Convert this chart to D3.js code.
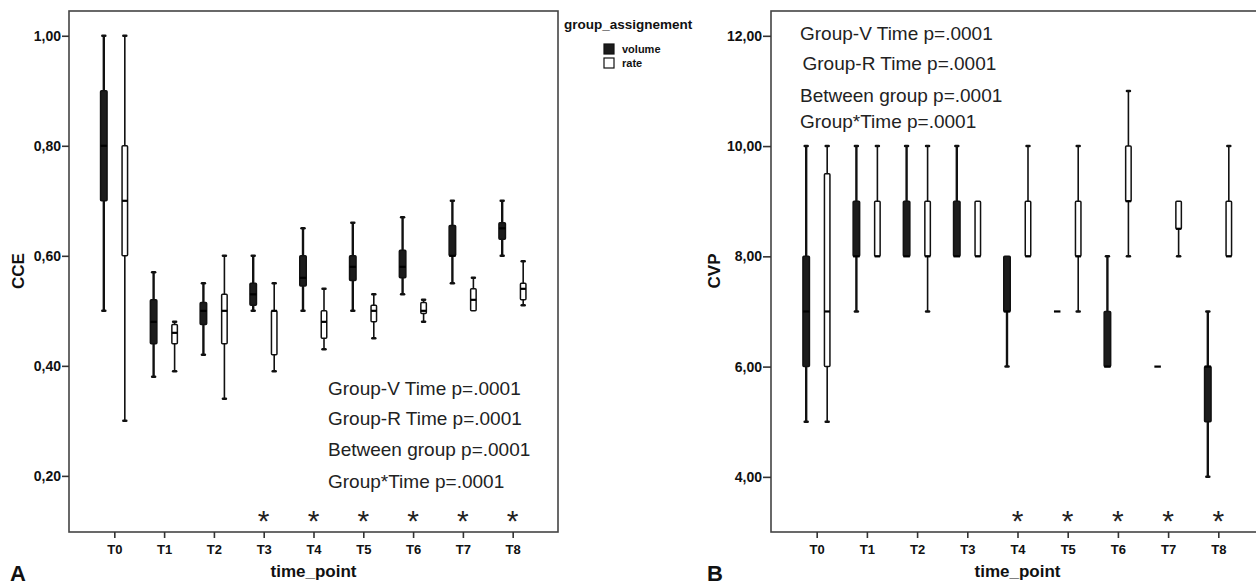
<!DOCTYPE html>
<html><head><meta charset="utf-8">
<script src="https://cdn.jsdelivr.net/npm/d3@7"></script>
<style>
body{margin:0;background:#fff}
svg{display:block}
text{font-family:"Liberation Sans",Arial,sans-serif}
</style>
</head><body>
<svg id="c" width="1256" height="586"></svg>
<script>
const timePoints = ["T0","T1","T2","T3","T4","T5","T6","T7","T8"];
const groups = ["volume","rate"];
// each entry: [min, q1, median, q3, max]
const cceVolume = [
  [0.50,0.70,0.80,0.90,1.00],
  [0.38,0.44,0.48,0.52,0.57],
  [0.42,0.475,0.50,0.515,0.55],
  [0.50,0.51,0.53,0.55,0.60],
  [0.50,0.545,0.56,0.60,0.65],
  [0.50,0.555,0.58,0.60,0.66],
  [0.53,0.56,0.58,0.61,0.67],
  [0.55,0.60,0.60,0.655,0.70],
  [0.60,0.63,0.65,0.66,0.70]
];
const cceRate = [
  [0.30,0.60,0.70,0.80,1.00],
  [0.39,0.44,0.46,0.475,0.48],
  [0.34,0.44,0.50,0.53,0.60],
  [0.39,0.42,0.50,0.50,0.55],
  [0.43,0.45,0.48,0.50,0.54],
  [0.45,0.48,0.50,0.51,0.53],
  [0.48,0.495,0.50,0.515,0.52],
  [0.50,0.50,0.52,0.54,0.56],
  [0.51,0.52,0.54,0.55,0.59]
];
const cvpVolume = [
  [5,6,7,8,10],
  [7,8,8,9,10],
  [8,8,8,9,10],
  [8,8,8,9,10],
  [6,7,7,8,8],
  [7,7,7,7,7],
  [6,6,6,7,8],
  [6,6,6,6,6],
  [4,5,6,6,7]
];
const cvpRate = [
  [5,6,7,9.5,10],
  [8,8,8,9,10],
  [7,8,8,9,10],
  [8,8,8,9,9],
  [8,8,8,9,10],
  [7,8,8,9,10],
  [8,9,9,10,11],
  [8,8.5,8.5,9,9],
  [8,8,8,9,10]
];
const cceTicks = [0.2,0.4,0.6,0.8,1.0];
const cvpTicks = [4,6,8,10,12];
const cceStars = ["T3","T4","T5","T6","T7","T8"];
const cvpStars = ["T4","T5","T6","T7","T8"];
const pLines = ["Group-V Time p=.0001","Group-R Time p=.0001","Between group p=.0001","Group*Time p=.0001"];

const svg = d3.select("#c");
const fmt = d => d3.format(".2f")(d).replace(".", ",");

function panel(cfg){
  const g = svg.append("g");
  const x = d3.scalePoint().domain(timePoints).range([cfg.left, cfg.right]).padding(0.91);
  const y = d3.scaleLinear().domain(cfg.ydom).range([532, 11]);

  // frame
  g.append("rect").attr("x", cfg.left).attr("y", 11)
    .attr("width", cfg.right - cfg.left).attr("height", 521)
    .attr("fill", "none").attr("stroke", "#444").attr("stroke-width", 1.6);

  // y axis
  const ya = g.append("g").attr("transform", `translate(${cfg.left},0)`)
    .call(d3.axisLeft(y).tickValues(cfg.ticks).tickFormat(fmt).tickSize(cfg.tickLen).tickPadding(1));
  ya.select(".domain").remove();
  ya.selectAll("line").attr("stroke", "#333").attr("stroke-width", 1.6);
  ya.selectAll("text").attr("font-size", 14).attr("font-weight", "bold").attr("fill", "#111");

  // x axis
  const xa = g.append("g").attr("transform", "translate(0,532)")
    .call(d3.axisBottom(x).tickSize(6).tickPadding(7));
  xa.select(".domain").remove();
  xa.selectAll("line").attr("stroke", "#333").attr("stroke-width", 1.6);
  xa.selectAll("text").attr("font-size", 13).attr("font-weight", "bold").attr("fill", "#111");

  // boxes
  const series = [
    {data: cfg.vol, off: -10.5, fill: "#1c1c1c", w: 6.5, sw: 2.4},
    {data: cfg.rate, off: 10.5, fill: "#fff", w: 5.5, sw: 1.6}
  ];
  series.forEach(s => {
    const bg = g.append("g");
    s.data.forEach((d, i) => {
      const cx = x(timePoints[i]) + s.off;
      const [mn, q1, md, q3, mx] = d;
      bg.append("line").attr("x1", cx).attr("x2", cx).attr("y1", y(mx)).attr("y2", y(q3))
        .attr("stroke", "#111").attr("stroke-width", s.sw);
      bg.append("line").attr("x1", cx).attr("x2", cx).attr("y1", y(q1)).attr("y2", y(mn))
        .attr("stroke", "#111").attr("stroke-width", s.sw);
      [mn, mx].forEach(v => {
        if ((v === mx && mx !== q3) || (v === mn && mn !== q1)) {
          bg.append("line").attr("x1", cx - 1.5).attr("x2", cx + 1.5).attr("y1", y(v)).attr("y2", y(v))
            .attr("stroke", "#111").attr("stroke-width", 2.5).attr("stroke-linecap", "round");
        }
      });
      bg.append("rect").attr("x", cx - s.w / 2).attr("y", y(q3))
        .attr("width", s.w).attr("height", Math.max(0, y(q1) - y(q3)))
        .attr("fill", s.fill).attr("stroke", "#111").attr("stroke-width", 1.5).attr("rx", 1);
      bg.append("line").attr("x1", cx - s.w / 2).attr("x2", cx + s.w / 2)
        .attr("y1", y(md)).attr("y2", y(md)).attr("stroke", "#000").attr("stroke-width", 2.2);
    });
  });

  // stars
  g.selectAll(".star").data(cfg.stars).enter().append("text")
    .attr("x", d => x(d)).attr("y", 531).attr("text-anchor", "middle")
    .attr("font-size", 30).attr("fill", "#222").text("*");

  // annotations
  g.selectAll(".pl").data(pLines).enter().append("text")
    .attr("x", (d, i) => cfg.px[i]).attr("y", (d, i) => cfg.py[i])
    .attr("font-size", 19).attr("fill", "#222").text(d => d);

  // axis titles
  g.append("text").attr("transform", `translate(${cfg.ytx},271) rotate(-90)`)
    .attr("text-anchor", "middle").attr("font-size", 17).attr("font-weight", "bold")
    .attr("fill", "#111").text(cfg.ytitle);
  g.append("text").attr("x", (cfg.left + cfg.right) / 2).attr("y", 577)
    .attr("text-anchor", "middle").attr("font-size", 17).attr("font-weight", "bold")
    .attr("fill", "#111").text("time_point");
  g.append("text").attr("x", cfg.lx).attr("y", 581).attr("font-size", 22)
    .attr("font-weight", "bold").attr("fill", "#111").text(cfg.label);
}

panel({left: 69, right: 558, ydom: [0.098, 1.045], ticks: cceTicks, tickLen: 7,
  vol: cceVolume, rate: cceRate, stars: cceStars,
  px: [328, 328, 328, 328], py: [395, 425, 456, 488],
  ytitle: "CCE", ytx: 24, label: "A", lx: 10});

panel({left: 771, right: 1264, ydom: [3.0, 12.45], ticks: cvpTicks, tickLen: 8,
  vol: cvpVolume, rate: cvpRate, stars: cvpStars,
  px: [800, 802.5, 800, 800], py: [40, 70, 102, 128],
  ytitle: "CVP", ytx: 720, label: "B", lx: 707});

// legend
const lg = svg.append("g");
lg.append("text").attr("x", 564).attr("y", 29).attr("font-size", 13.5)
  .attr("font-weight", "bold").attr("fill", "#111").text("group_assignement");
const legFill = {volume: "#1c1c1c", rate: "#fff"};
groups.forEach((k, i) => {
  const yy = 44 + i * 14;
  lg.append("rect").attr("x", 604).attr("y", yy).attr("width", 10).attr("height", 10)
    .attr("fill", legFill[k]).attr("stroke", "#111").attr("stroke-width", 1.2);
  lg.append("text").attr("x", 622).attr("y", yy + 9).attr("font-size", 11)
    .attr("font-weight", "bold").attr("fill", "#111").text(k);
});
</script>
</body></html>
